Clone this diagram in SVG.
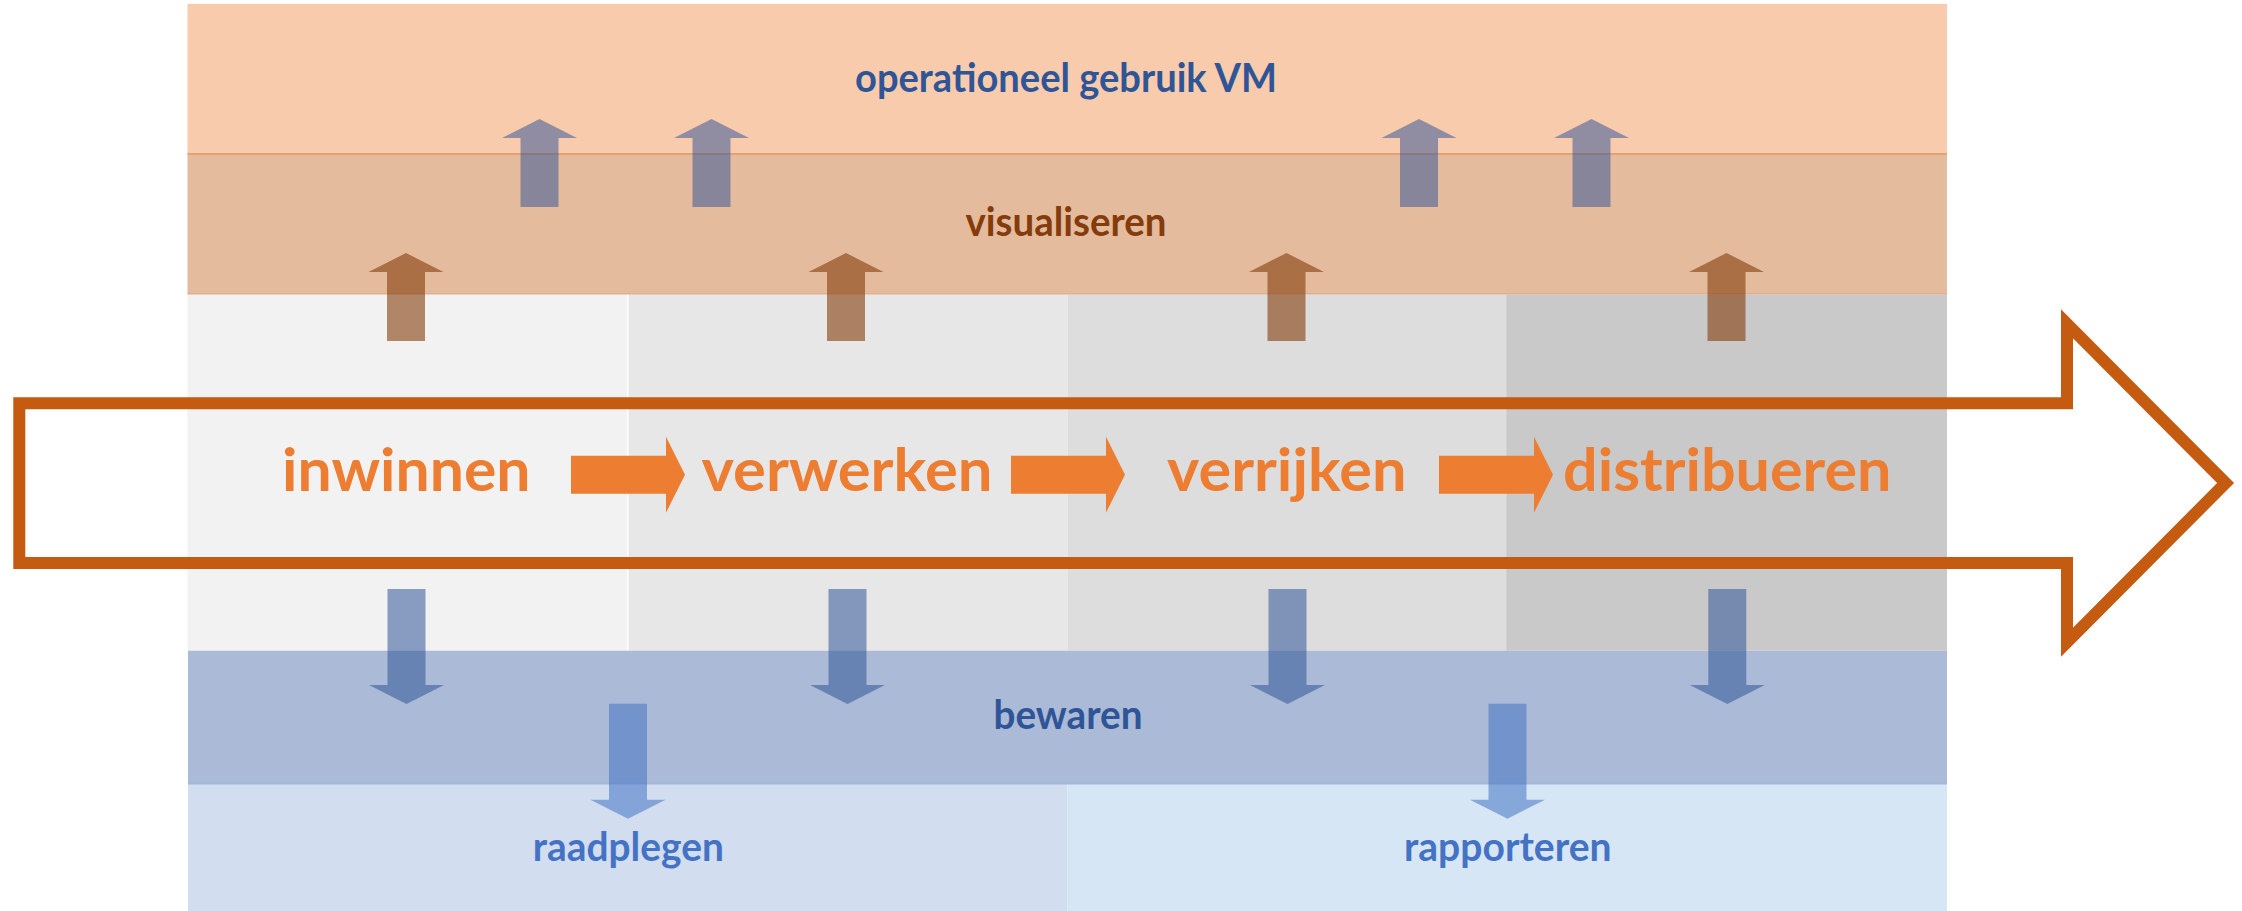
<svg xmlns="http://www.w3.org/2000/svg" width="2242" height="911" viewBox="0 0 2242 911">
<style>
.lbl{font-family:Lato,"Open Sans","Liberation Sans",sans-serif;font-weight:700}
.big{font-size:60px;fill:#ED7D31}
.small{font-size:40px}
.blue{fill:#2F5597}
.lblue{fill:#4472C4}
.brown{fill:#843C0C}
.upg{fill:#2F5597;fill-opacity:0.52}
.upb{fill:#843C0C;fill-opacity:0.6}
.dn{fill:#2F5597;fill-opacity:0.55}
.dnl{fill:#4472C4;fill-opacity:0.55}
.step{fill:#ED7D31}
</style>
<defs>
<path id="up" d="M0,0 L37.5,19 L19,19 L19,88 L-19,88 L-19,19 L-37.5,19 Z"/>
<path id="down" d="M0,0 L37.5,-19 L19,-19 L19,-115 L-19,-115 L-19,-19 L-37.5,-19 Z"/>
<path id="step" d="M0,0 L95,0 L95,-19 L114,19 L95,57 L95,38 L0,38 Z"/>
</defs>
<rect width="2242" height="911" fill="#FFFFFF"/>

<g id="band-operationeel">
<rect x="187.5" y="4" width="1759.5" height="150" fill="#F8CBAD"/>
<text class="lbl small blue" x="855" y="91.7" textLength="422" lengthAdjust="spacingAndGlyphs">operationeel gebruik VM</text>
</g>
<g id="band-visualiseren">
<rect x="187.5" y="154" width="1759.5" height="140" fill="#E5BB9D"/>
<line x1="187.5" y1="154" x2="1947" y2="154" stroke="#E9A070" stroke-width="2"/>
<line x1="187.5" y1="294" x2="1947" y2="294" stroke="#DDAE8C" stroke-width="1.5"/>
<text class="lbl small brown" x="965.5" y="235.7" textLength="201" lengthAdjust="spacingAndGlyphs">visualiseren</text>
</g>

<g id="col-inwinnen">
<rect x="187.5" y="294.7" width="440.3" height="356" fill="#F2F2F2"/>
<text class="lbl big" x="282" y="491" textLength="248.5" lengthAdjust="spacingAndGlyphs">inwinnen</text>
</g>
<g id="col-verwerken">
<rect x="627.8" y="294.7" width="440" height="356" fill="#E7E7E7"/>
<line x1="627.8" y1="294.7" x2="627.8" y2="650.7" stroke="#FFFFFF" stroke-width="1.5"/>
<text class="lbl big" x="701.5" y="491" textLength="291" lengthAdjust="spacingAndGlyphs">verwerken</text>
</g>
<g id="col-verrijken">
<rect x="1067.8" y="294.7" width="439.4" height="356" fill="#DDDDDD"/>
<text class="lbl big" x="1167" y="491" textLength="239.5" lengthAdjust="spacingAndGlyphs">verrijken</text>
</g>
<g id="col-distribueren">
<rect x="1507.2" y="294.7" width="439.8" height="356" fill="#C9C9C9"/>
<line x1="1507.2" y1="294.7" x2="1507.2" y2="650.7" stroke="#C2C2C2" stroke-width="1"/>
<text class="lbl big" x="1563" y="491" textLength="328.5" lengthAdjust="spacingAndGlyphs">distribueren</text>
</g>

<g id="band-bewaren">
<rect x="188" y="650.7" width="1759" height="132.5" fill="#ABBAD6"/>
<text class="lbl small blue" x="993.5" y="729.3" textLength="149" lengthAdjust="spacingAndGlyphs">bewaren</text>
</g>
<g id="band-raadplegen">
<rect x="188" y="783.2" width="879.5" height="127.8" fill="#D2DDEF"/>
<text class="lbl small lblue" x="532.8" y="861" textLength="191" lengthAdjust="spacingAndGlyphs">raadplegen</text>
</g>
<g id="band-rapporteren">
<rect x="1067.5" y="783.2" width="879.5" height="127.8" fill="#D7E6F4"/>
<text class="lbl small lblue" x="1404" y="861" textLength="207.5" lengthAdjust="spacingAndGlyphs">rapporteren</text>
</g>
<line x1="188" y1="783.5" x2="1947" y2="783.5" stroke="#A3B7DE" stroke-width="2"/>

<g id="connectors">
<use href="#up" class="upg" x="539.5" y="119"/>
<use href="#up" class="upg" x="711.5" y="119"/>
<use href="#up" class="upg" x="1419" y="119"/>
<use href="#up" class="upg" x="1591.5" y="119"/>
<use href="#up" class="upb" x="406" y="253"/>
<use href="#up" class="upb" x="846" y="253"/>
<use href="#up" class="upb" x="1286.5" y="253"/>
<use href="#up" class="upb" x="1726.5" y="253"/>
<use href="#down" class="dn" x="406.5" y="704"/>
<use href="#down" class="dn" x="847.5" y="704"/>
<use href="#down" class="dn" x="1287.5" y="704"/>
<use href="#down" class="dn" x="1727.3" y="704"/>
<use href="#down" class="dnl" x="628" y="818.7"/>
<use href="#down" class="dnl" x="1507.5" y="818.7"/>
<use href="#step" class="step" x="571" y="455.7"/>
<use href="#step" class="step" x="1011" y="455.7"/>
<use href="#step" class="step" x="1439" y="455.7"/>
<polygon points="19.3,403.3 2067,403.3 2067,323.8 2225.6,483 2067,642.2 2067,563 19.3,563" fill="none" stroke="#C55A11" stroke-width="12"/>
</g>
</svg>
